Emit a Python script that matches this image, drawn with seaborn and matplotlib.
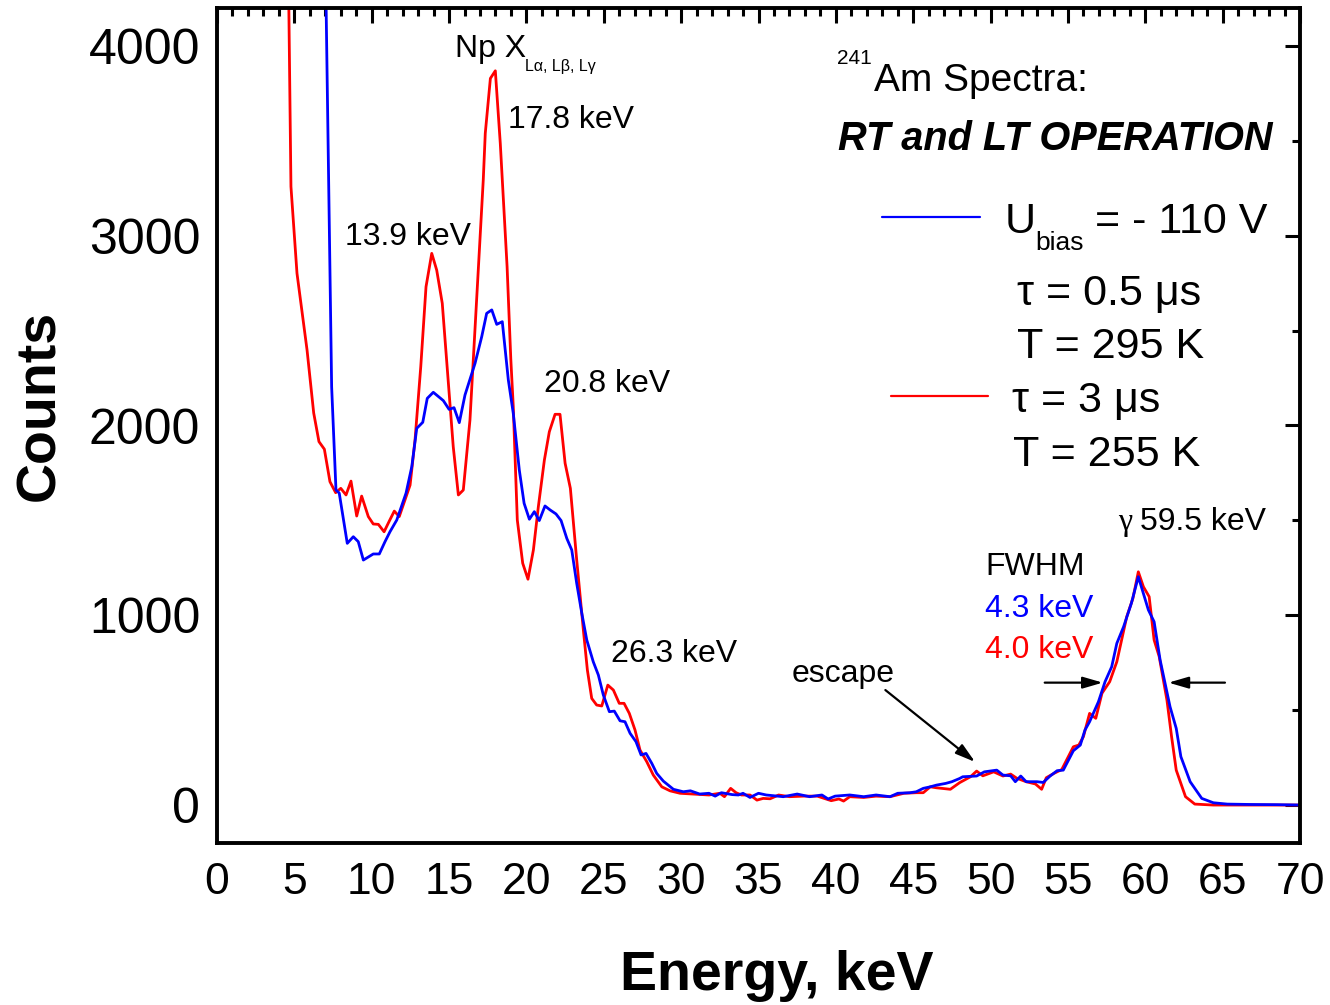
import matplotlib
matplotlib.use("Agg")
import matplotlib.pyplot as plt
from matplotlib.lines import Line2D
from matplotlib.ticker import MultipleLocator
import pandas as pd
import seaborn as sns

# 241Am spectrum, RT operation (tau = 0.5 us, T = 295 K) - blue
energy_rt = [7.00, 7.41, 7.69, 7.90, 8.42, 8.81, 9.13, 9.46, 10.10, 10.49, 10.86, 11.18,
             11.62, 12.22, 12.59, 12.91, 13.30, 13.59, 13.98, 14.63, 15.00, 15.32, 15.66,
             16.03, 16.68, 17.11, 17.43, 17.76, 18.08, 18.44, 18.83, 19.15, 19.54, 19.85,
             20.19, 20.51, 20.83, 21.20, 21.53, 21.91, 22.24, 22.61, 22.93, 23.25, 23.58,
             23.90, 24.32, 24.65, 24.97, 25.36, 25.68, 26.05, 26.37, 26.70, 27.08, 27.41,
             27.73, 28.10, 28.42, 28.85, 29.50, 30.14, 30.60, 31.20, 31.80, 32.20, 32.60,
             33.30, 33.70, 34.00, 34.45, 35.00, 35.50, 36.60, 37.50, 38.30, 39.10, 39.50,
             39.95, 40.90, 41.80, 42.60, 43.50, 44.00, 44.80, 45.20, 45.65, 46.10, 46.50,
             47.10, 47.50, 48.00, 48.20, 49.10, 49.60, 50.40, 50.80, 51.30, 51.60, 51.95,
             52.30, 53.00, 53.40, 53.85, 54.30, 54.70, 55.35, 55.80, 56.10, 56.40, 56.97,
             57.40, 57.83, 58.16, 58.60, 59.10, 59.55, 59.88, 60.20, 60.57, 60.96, 61.60,
             62.00, 62.30, 62.90, 63.65, 64.40, 65.30, 66.80, 68.50, 70.00]
counts_rt = [4500, 2204, 1660, 1644, 1379, 1414, 1388, 1291, 1323, 1323, 1388, 1440,
             1502, 1644, 1783, 1985, 2017, 2143, 2175, 2131, 2085, 2094, 2015,
             2161, 2328, 2468, 2591, 2609, 2533, 2547, 2240, 2064, 1765, 1590,
             1506, 1546, 1499, 1576, 1555, 1534, 1499, 1405, 1344, 1168, 1010,
             870, 755, 685, 580, 492, 495, 444, 439, 378, 334, 264,
             272, 220, 167, 126, 83, 70, 75, 58, 62, 47, 65,
             55, 53, 62, 40, 62, 53, 44, 58, 44, 53, 32,
             47, 53, 44, 53, 44, 62, 65, 70, 88, 96, 105,
             114, 123, 140, 149, 153, 175, 184, 158, 154, 123, 153,
             123, 123, 119, 153, 181, 184, 286, 316, 395, 439, 544,
             650, 729, 852, 940, 1063, 1203, 1115, 1028, 966, 764, 518,
             404, 255, 123, 35, 12, 5, 3, 2, 0]

# 241Am spectrum, LT operation (tau = 3 us, T = 255 K) - red
energy_lt = [4.60, 4.78, 5.17, 5.82, 6.25, 6.59, 6.94, 7.30, 7.67, 8.00, 8.34, 8.66,
             9.03, 9.35, 9.78, 10.10, 10.43, 10.80, 11.14, 11.46, 11.78, 12.15, 12.48,
             12.80, 13.17, 13.51, 13.88, 14.20, 14.56, 14.89, 15.27, 15.60, 15.92, 16.35,
             16.79, 17.21, 17.34, 17.67, 17.99, 18.31, 18.75, 18.99, 19.15, 19.41, 19.76,
             20.10, 20.45, 20.77, 21.16, 21.48, 21.85, 22.17, 22.50, 22.84, 23.25, 23.68,
             23.94, 24.22, 24.54, 24.87, 25.26, 25.62, 26.00, 26.31, 26.65, 27.02, 27.34,
             27.78, 28.20, 28.75, 29.28, 29.93, 30.80, 31.80, 32.50, 32.80, 33.20, 33.55,
             33.90, 34.45, 34.90, 35.30, 35.75, 36.30, 37.00, 37.90, 38.80, 39.70, 40.20,
             40.50, 40.90, 41.80, 42.60, 43.50, 44.40, 45.20, 45.65, 46.10, 46.50, 47.40,
             48.00, 48.70, 49.10, 49.50, 50.20, 50.80, 51.30, 51.70, 52.30, 52.90, 53.30,
             53.60, 54.10, 54.60, 55.35, 55.70, 56.00, 56.40, 56.80, 57.20, 57.70, 58.16,
             58.80, 59.20, 59.55, 59.88, 60.25, 60.57, 60.90, 61.40, 61.70, 62.00, 62.60,
             63.20, 64.40, 70.00]
counts_lt = [4500, 3259, 2802, 2398, 2066, 1915, 1875, 1704, 1646, 1669, 1634, 1707,
             1523, 1628, 1520, 1481, 1479, 1440, 1497, 1549, 1520, 1607, 1686,
             1924, 2310, 2731, 2907, 2819, 2644, 2292, 1888, 1634, 1660, 2029,
             2679, 3294, 3540, 3829, 3869, 3487, 2837, 2350, 2099, 1502, 1274,
             1190, 1344, 1572, 1818, 1967, 2059, 2059, 1801, 1669, 1291, 922,
             711, 562, 527, 522, 632, 606, 536, 536, 483, 395, 290,
             228, 158, 96, 75, 62, 58, 53, 62, 44, 88, 65,
             53, 53, 26, 35, 33, 53, 44, 47, 47, 23, 32,
             21, 44, 40, 47, 44, 62, 65, 65, 96, 91, 83,
             118, 149, 179, 154, 175, 153, 163, 141, 123, 111, 83,
             144, 167, 187, 307, 316, 360, 483, 457, 589, 650, 755,
             992, 1089, 1229, 1150, 1098, 870, 782, 553, 360, 184, 44,
             5, 0, 0]

x_ticks = list(range(0, 75, 5))
y_ticks = [0, 1000, 2000, 3000, 4000]

W, H = 1330, 1005


def px(x, y):
    return x / W, 1 - y / H


sns.set_style("white")
plt.rcParams["font.family"] = ["Liberation Sans", "DejaVu Sans"]
plt.rcParams.update({"text.color": "black", "axes.labelcolor": "black",
                     "xtick.color": "black", "ytick.color": "black"})

df = pd.concat([
    pd.DataFrame({"energy": energy_lt, "counts": counts_lt, "run": "LT"}),
    pd.DataFrame({"energy": energy_rt, "counts": counts_rt, "run": "RT"}),
], ignore_index=True)

fig = plt.figure(figsize=(W / 100, H / 100), dpi=100)
ax = fig.add_axes([217 / W, 1 - 843 / H, (1300 - 217) / W, (843 - 8) / H])

sns.lineplot(data=df, x="energy", y="counts", hue="run", hue_order=["LT", "RT"],
             palette={"LT": "#ff0000", "RT": "#0000ff"}, estimator=None, sort=False,
             lw=2, legend=False, ax=ax)

ax.set_xlim(0, 70)
ax.set_ylim(-200, 4200)
ax.set_xticks(x_ticks)
ax.set_yticks(y_ticks)
ax.xaxis.set_minor_locator(MultipleLocator(1))
ax.yaxis.set_minor_locator(MultipleLocator(500))
ax.tick_params(which="both", direction="in", top=True, right=True, width=2.2,
               colors="black", labelcolor="black")
ax.tick_params(which="major", length=11)
ax.tick_params(which="minor", length=5.5)
ax.tick_params(axis="x", labelsize=32, pad=14)
ax.tick_params(axis="y", labelsize=36, pad=12)
for sp in ax.spines.values():
    sp.set_linewidth(2.8)
    sp.set_color("black")
ax.set_xlabel("")
ax.set_ylabel("")

fig.text(*px(40, 405), "Counts", rotation=90, fontsize=40, fontweight="bold",
         ha="center", va="center")
fig.text(*px(777, 990), "Energy, keV", fontsize=40, fontweight="bold",
         ha="center", va="baseline")

# peak labels
fs = 23
fig.text(*px(455, 57), "Np X", fontsize=fs, va="baseline")
fig.text(*px(525, 71), "Lα, Lβ, Lγ", fontsize=11.5, va="baseline")
fig.text(*px(508, 128), "17.8 keV", fontsize=fs, va="baseline")
fig.text(*px(345, 245), "13.9 keV", fontsize=fs, va="baseline")
fig.text(*px(544, 392), "20.8 keV", fontsize=fs, va="baseline")
fig.text(*px(611, 662), "26.3 keV", fontsize=fs, va="baseline")
fig.text(*px(792, 682), "escape", fontsize=fs, va="baseline")
fig.text(*px(1118, 530), "γ", fontsize=fs, va="baseline", family="Liberation Serif")
fig.text(*px(1140, 530), "59.5 keV", fontsize=fs, va="baseline")
fig.text(*px(985, 575), "FWHM", fontsize=fs, va="baseline")
fig.text(*px(985, 617), "4.3 keV", fontsize=fs, va="baseline", color="#0000ff")
fig.text(*px(985, 658), "4.0 keV", fontsize=fs, va="baseline", color="#ff0000")

arrow = dict(arrowstyle="-|>,head_length=1.2,head_width=0.35", color="black", lw=1.6,
             shrinkA=0, shrinkB=0)
ax.annotate("", xy=(49.0, 227), xytext=(43.2, 606), arrowprops=arrow)
ax.annotate("", xy=(57.25, 645), xytext=(53.5, 645), arrowprops=arrow)
ax.annotate("", xy=(61.5, 645), xytext=(65.15, 645), arrowprops=arrow)

# title block
fig.text(*px(837, 64), "241", fontsize=15, va="baseline")
fig.text(*px(874, 91), "Am Spectra:", fontsize=28, va="baseline")
fig.text(*px(838, 150), "RT and LT OPERATION", fontsize=28.6, fontweight="bold",
         fontstyle="italic", va="baseline")

# legend
fig.add_artist(Line2D([882 / W, 980 / W], [1 - 217 / H, 1 - 217 / H], color="#0000ff", lw=1.6))
fig.add_artist(Line2D([891 / W, 988 / W], [1 - 396 / H, 1 - 396 / H], color="#ff0000", lw=1.6))
fig.text(*px(1005, 233), "U", fontsize=31, va="baseline")
fig.text(*px(1035, 250), "bias", fontsize=19, va="baseline")
fig.text(*px(1095, 233), "= - 110 V", fontsize=31, va="baseline")
fig.text(*px(1017, 305), "τ = 0.5 μs", fontsize=31, va="baseline")
fig.text(*px(1017, 358), "T = 295 K", fontsize=31, va="baseline")
fig.text(*px(1012, 412), "τ = 3 μs", fontsize=31, va="baseline")
fig.text(*px(1013, 466), "T = 255 K", fontsize=31, va="baseline")

fig.savefig("out.png", dpi=100)
